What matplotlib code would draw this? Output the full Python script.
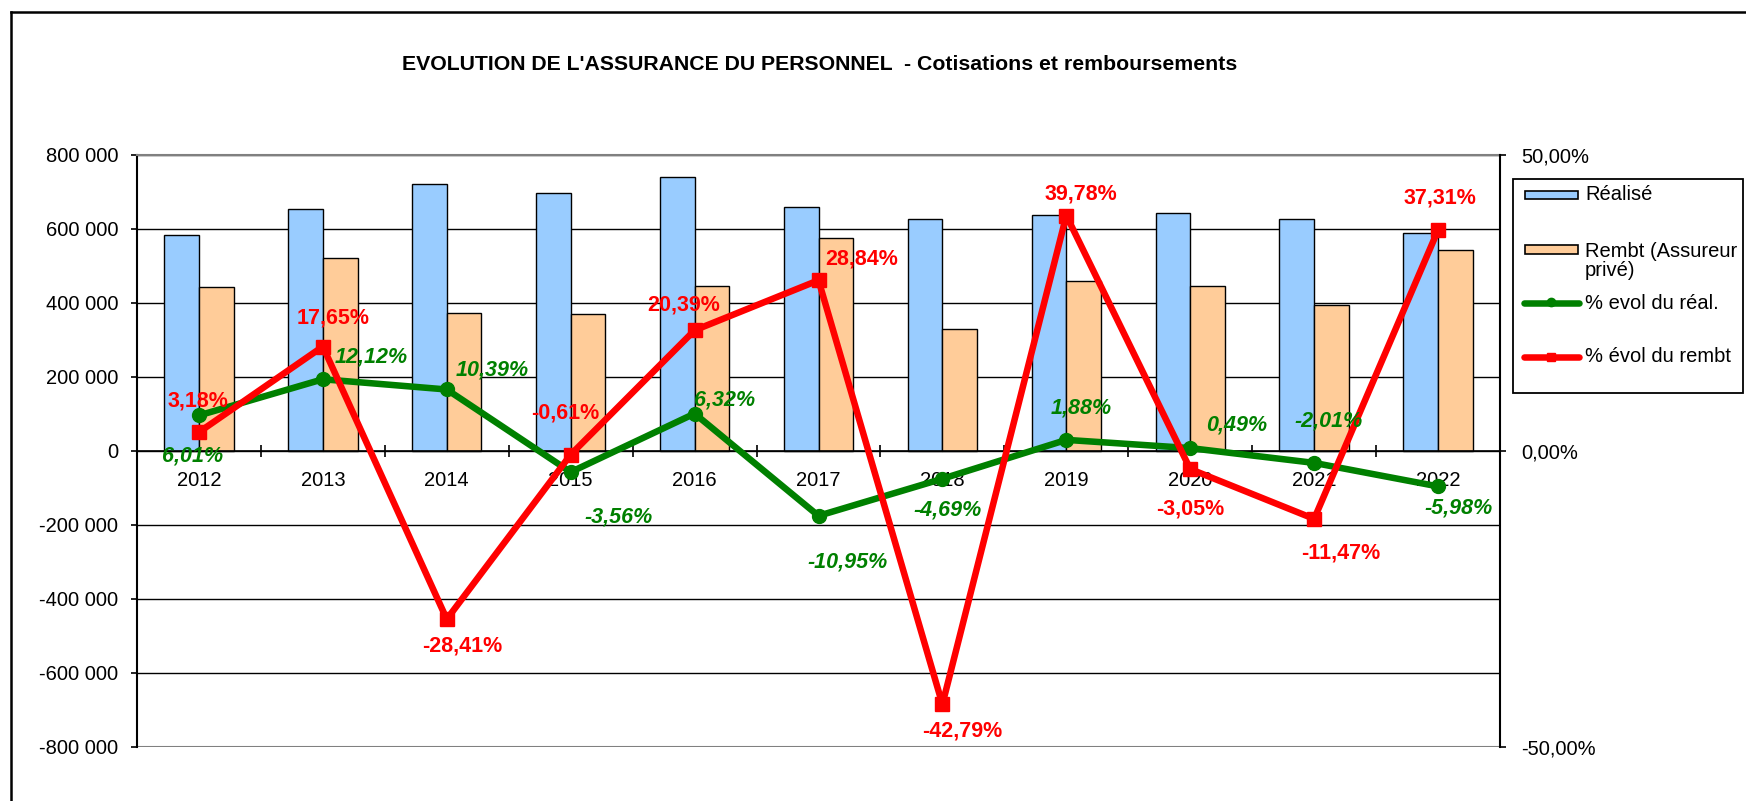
import matplotlib
matplotlib.use('Agg')
import matplotlib.pyplot as plt
from matplotlib.ticker import FuncFormatter, FixedLocator
from matplotlib.patches import Rectangle
from matplotlib.lines import Line2D
import numpy as np

# ---------------- data ----------------
years = ['2012', '2013', '2014', '2015', '2016', '2017', '2018', '2019', '2020', '2021', '2022']
realise = [583000, 654000, 721000, 696000, 740000, 659000, 627000, 638000, 642000, 628000, 590000]
rembt = [443000, 522000, 372000, 370000, 446000, 575000, 329000, 459000, 446000, 394000, 543000]
evol_real = [6.01, 12.12, 10.39, -3.56, 6.32, -10.95, -4.69, 1.88, 0.49, -2.01, -5.98]
evol_rembt = [3.18, 17.65, -28.41, -0.61, 20.39, 28.84, -42.79, 39.78, -3.05, -11.47, 37.31]
left_ticks = [-800000, -600000, -400000, -200000, 0, 200000, 400000, 600000, 800000]
right_ticks = [-50, 0, 50]

title = "EVOLUTION DE L'ASSURANCE DU PERSONNEL  - Cotisations et remboursements"
legend_labels = ['Réalisé', 'Rembt (Assureur\nprivé)', '% evol du réal.', '% évol du rembt']

# label offsets in pixels (dx, dy with dy positive = up)
red_offsets = [(-1, 31), (10, 29), (15, -27), (-5, 42), (-11, 25), (43, 21),
               (20, -27), (15, 22), (0, -40), (27, -34), (2, 32)]
green_offsets = [(-6, -41), (48, 22), (45, 19), (48, -45), (30, 14), (29, -46),
                 (5, -31), (15, 32), (46, 23), (14, 42), (20, -22)]

# ---------------- style ----------------
W, H = 1746, 801
plt.rcParams['font.family'] = ['Liberation Sans', 'DejaVu Sans']
BLUE = '#99CCFF'
ORANGE = '#FFCC99'
GREEN = '#008000'
RED = '#FF0000'
FS = 14.5
LFS = 15.5
LW = 4.7

fig = plt.figure(figsize=(W / 100, H / 100), dpi=100)
fig.patch.set_facecolor('white')

def fx(px):
    return px / W

def fy(py):
    return 1 - py / H

left, right, top, bottom = 137, 1500, 155, 747
ax = fig.add_axes([fx(left), fy(bottom), fx(right) - fx(left), fy(top) - fy(bottom)])

x = np.arange(len(years))
bw = 0.28
ax.bar(x - bw / 2, realise, bw, color=BLUE, edgecolor='black', linewidth=1.0, zorder=2)
ax.bar(x + bw / 2, rembt, bw, color=ORANGE, edgecolor='black', linewidth=1.0, zorder=2)

ax.set_xlim(-0.5, len(years) - 0.5)
ax.set_ylim(-800000, 800000)
ax.yaxis.set_major_locator(FixedLocator(left_ticks))
ax.yaxis.set_major_formatter(FuncFormatter(lambda v, p: f"{int(round(v)):,}".replace(',', ' ')))
ax.yaxis.grid(True, color='black', linewidth=1.0)
ax.set_axisbelow(True)
ax.axhline(-800000, color='#808080', linewidth=1.5, zorder=1.5)

ax.spines['bottom'].set_position(('data', 0))
ax.spines['bottom'].set_color('black')
ax.spines['bottom'].set_linewidth(1.2)
ax.spines['bottom'].set_zorder(3)
ax.spines['top'].set_color('#808080')
ax.spines['top'].set_linewidth(1.5)
ax.spines['left'].set_linewidth(1.5)
ax.spines['right'].set_visible(False)

ax.xaxis.set_major_locator(FixedLocator(np.arange(-0.5, len(years), 1.0)))
ax.xaxis.set_major_formatter(FuncFormatter(lambda v, p: ''))
ax.xaxis.set_minor_locator(FixedLocator(x))
ax.set_xticklabels(years, minor=True)
ax.tick_params(axis='x', which='major', direction='inout', length=9, width=1.2, color='black')
ax.tick_params(axis='x', which='minor', length=0, pad=14.5, labelsize=FS)
ax.tick_params(axis='y', direction='out', length=4.5, width=1.2, pad=9, labelsize=FS)

ax2 = ax.twinx()
ax2.set_ylim(-50, 50)
ax2.yaxis.set_major_locator(FixedLocator(right_ticks))
ax2.yaxis.set_major_formatter(FuncFormatter(lambda v, p: f"{v:.2f}%".replace('.', ',')))
ax2.tick_params(axis='y', direction='out', length=4.5, width=1.2, pad=11, labelsize=FS)
for s in ['top', 'bottom', 'left']:
    ax2.spines[s].set_visible(False)
ax2.spines['right'].set_linewidth(1.5)

ax2.plot(x, evol_real, color=GREEN, linewidth=LW, marker='o', markersize=10, zorder=3)
ax2.plot(x, evol_rembt, color=RED, linewidth=LW, marker='s', markersize=9.5, zorder=4)

for i, v in enumerate(evol_rembt):
    dx, dy = red_offsets[i]
    ax2.annotate(f"{v:.2f}%".replace('.', ','), (x[i], v), xytext=(dx, dy),
                 textcoords='offset pixels', ha='center', va='center',
                 color=RED, fontsize=LFS, fontweight='bold', zorder=6)
for i, v in enumerate(evol_real):
    dx, dy = green_offsets[i]
    ax2.annotate(f"{v:.2f}%".replace('.', ','), (x[i], v), xytext=(dx, dy),
                 textcoords='offset pixels', ha='center', va='center',
                 color=GREEN, fontsize=LFS, fontweight='bold', fontstyle='italic', zorder=6)

# title
fig.text(fx(820), fy(65), title, ha='center', va='center', fontsize=15.3, fontweight='bold')

# manual legend (Excel style)
fig.add_artist(Rectangle((fx(1513), fy(393)), fx(1743) - fx(1513), fy(179) - fy(393),
                         transform=fig.transFigure, facecolor='white', edgecolor='black', linewidth=1.3))
fig.add_artist(Rectangle((fx(1525), fy(199)), fx(1578) - fx(1525), fy(191) - fy(199),
                         transform=fig.transFigure, facecolor=BLUE, edgecolor='black', linewidth=1.2))
fig.add_artist(Rectangle((fx(1525), fy(254)), fx(1578) - fx(1525), fy(245) - fy(254),
                         transform=fig.transFigure, facecolor=ORANGE, edgecolor='black', linewidth=1.2))
fig.add_artist(Line2D([fx(1524), fx(1579)], [fy(303), fy(303)], transform=fig.transFigure,
                      color=GREEN, linewidth=LW, solid_capstyle='round'))
fig.add_artist(Line2D([fx(1551)], [fy(302)], transform=fig.transFigure, color=GREEN,
                      marker='o', markersize=6))
fig.add_artist(Line2D([fx(1524), fx(1579)], [fy(357), fy(357)], transform=fig.transFigure,
                      color=RED, linewidth=LW, solid_capstyle='round'))
fig.add_artist(Line2D([fx(1551)], [fy(357)], transform=fig.transFigure, color=RED,
                      marker='s', markersize=6))
fig.text(fx(1585), fy(195), legend_labels[0], ha='left', va='center', fontsize=FS)
fig.text(fx(1585), fy(261), legend_labels[1], ha='left', va='center', fontsize=FS, linespacing=1.05)
fig.text(fx(1585), fy(303), legend_labels[2], ha='left', va='center', fontsize=FS)
fig.text(fx(1585), fy(357), legend_labels[3], ha='left', va='center', fontsize=FS)

# outer chart frame
fig.add_artist(Line2D([fx(11), fx(11)], [fy(12), 0], transform=fig.transFigure, color='black', linewidth=1.8))
fig.add_artist(Line2D([fx(11), 1], [fy(12), fy(12)], transform=fig.transFigure, color='black', linewidth=1.8))

fig.savefig('out.png', dpi=100, facecolor='white')
